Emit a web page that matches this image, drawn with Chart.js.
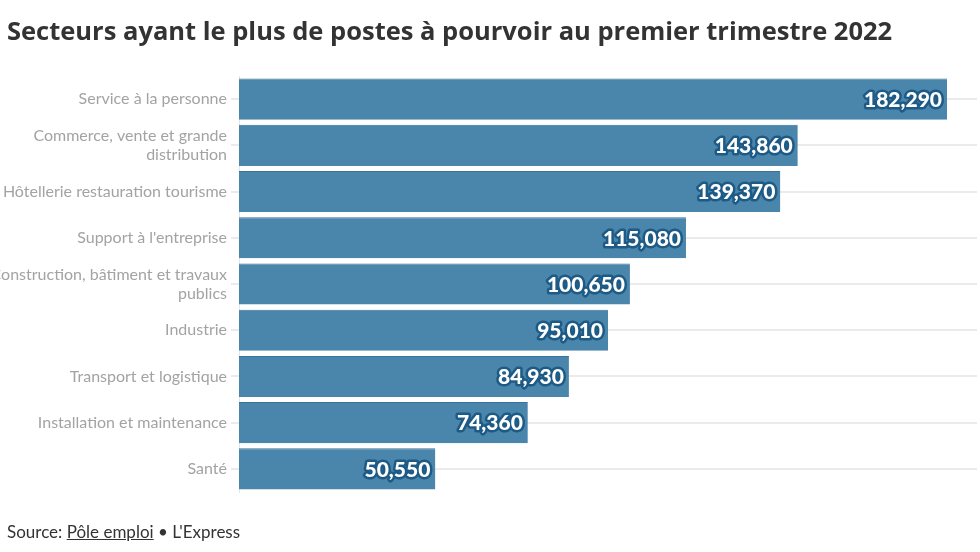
<!DOCTYPE html>
<html>
<head>
<meta charset="utf-8">
<script src="https://cdn.jsdelivr.net/npm/chart.js@4"></script>
<style>
  body { margin: 0; background: #fff; font-family: Lato, sans-serif; }
  #wrap { position: relative; width: 980px; height: 552px; overflow: hidden; }
  #titre { position: absolute; left: 7px; top: 13px; margin: 0; font-family: "Open Sans", sans-serif; font-size: 25.5px; font-weight: 700; color: #333; white-space: nowrap; letter-spacing: 0; }
  #source { position: absolute; left: 7px; top: 521px; font-size: 17px; color: #333; }
  #source u { text-decoration: underline; }
  canvas { position: absolute; left: 0; top: 0; }
</style>
</head>
<body>
<div id="wrap">
  <canvas id="myChart" width="980" height="552"></canvas>
  <h1 id="titre">Secteurs ayant le plus de postes à pourvoir au premier trimestre 2022</h1>
  <div id="source">Source: <u>Pôle emploi</u> • L'Express</div>
</div>
<script>
// categories et valeurs
const secteurs = [
  "Service à la personne",
  ["Commerce, vente et grande", "distribution"],
  "Hôtellerie restauration tourisme",
  "Support à l'entreprise",
  ["Construction, bâtiment et travaux", "publics"],
  "Industrie",
  "Transport et logistique",
  "Installation et maintenance",
  "Santé"
];
const postes = [182290, 143860, 139370, 115080, 100650, 95010, 84930, 74360, 50550];

// plugin pour les etiquettes blanches avec contour
const etiquettes = {
  id: "etiquettes",
  afterDatasetsDraw(chart) {
    const ctx = chart.ctx;
    const meta = chart.getDatasetMeta(0);
    ctx.save();
    ctx.font = "900 21px Lato";
    ctx.textAlign = "right";
    ctx.textBaseline = "middle";
    ctx.lineJoin = "round";
    meta.data.forEach((bar, i) => {
      const txt = postes[i].toLocaleString("en-US");
      ctx.lineWidth = 5;
      ctx.strokeStyle = "#1d5a86";
      ctx.strokeText(txt, bar.x - 5, bar.y + 1);
      ctx.fillStyle = "#fff";
      ctx.fillText(txt, bar.x - 5, bar.y + 1);
    });
    ctx.restore();
  }
};

let myChart;
function dessiner() {
  const ctx = document.getElementById("myChart").getContext("2d");
  if (myChart) myChart.destroy();
  myChart = new Chart(ctx, {
    type: "bar",
    data: {
      labels: secteurs,
      datasets: [{
        data: postes,
        backgroundColor: "#4a86ab",
        borderColor: "#3a7399",
        borderWidth: { top: 1, left: 0, right: 0, bottom: 0 },
        barPercentage: 0.89,
        categoryPercentage: 1
      }]
    },
    options: {
      indexAxis: "y",
      responsive: false,
      animation: false,
      layout: { padding: { top: 76, bottom: 60, right: 3, left: 0 } },
      plugins: { legend: { display: false }, tooltip: { enabled: false } },
      scales: {
        x: {
          display: false,
          min: 0,
          max: 190000
        },
        y: {
          afterFit(scale) { scale.width = 239; },
          border: { display: true, color: "#e6e6e6" },
          grid: { offset: false, color: "#ebebeb", lineWidth: 2, tickLength: 8 },
          ticks: {
            color: "#a3a3a3",
            padding: 4,
            font: { family: "Lato", size: 16 }
          }
        }
      }
    },
    plugins: [etiquettes]
  });
}
dessiner();
</script>
</body>
</html>
